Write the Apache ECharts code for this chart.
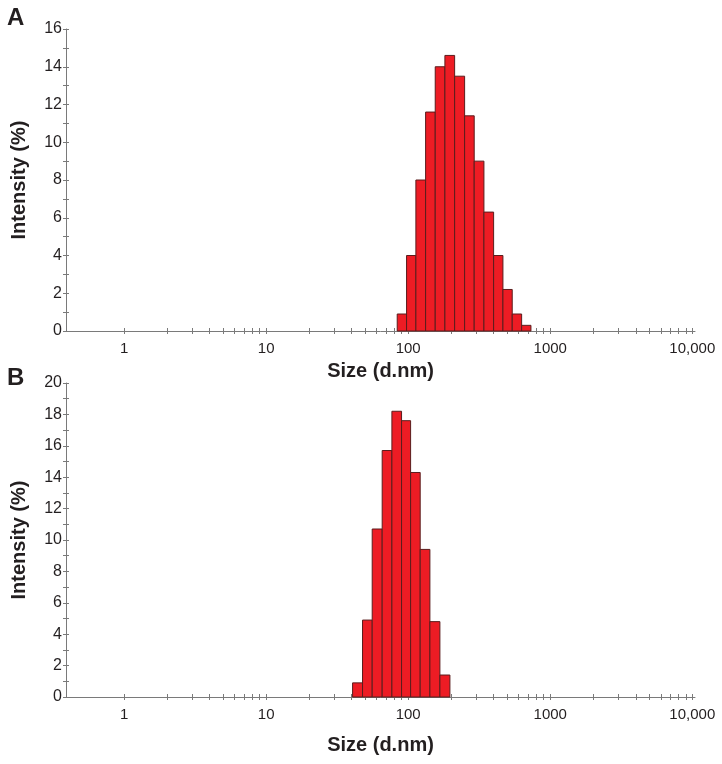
<!DOCTYPE html>
<html>
<head>
<meta charset="utf-8">
<script src="https://cdn.jsdelivr.net/npm/echarts@6/dist/echarts.min.js"></script>
<style>
html,body{margin:0;padding:0;background:#fff;}
#chart{width:722px;height:764px;}
</style>
</head>
<body>
<div id="chart"></div>
<script>
// Panel A: bin edges (nm) and intensity (%)
const sizeEdgesA = [83.7, 97.4, 113.3, 132.6, 155.0, 181.3, 212.3, 249.6, 291.6, 341.4, 399.4, 464.5, 540.1, 629.0, 731.4];
const intensityA = [0.9, 4.0, 8.0, 11.6, 14.0, 14.6, 13.5, 11.4, 9.0, 6.3, 4.0, 2.2, 0.9, 0.3];
// Panel B
const sizeEdgesB = [40.6, 47.7, 55.8, 65.6, 76.8, 89.8, 104.0, 121.5, 142.2, 167.2, 196.7];
const intensityB = [0.9, 4.9, 10.7, 15.7, 18.2, 17.6, 14.3, 9.4, 4.8, 1.4];
// Axis labels/ticks
const xLabelValues = [1, 10, 100, 1000, 10000];
const xTickValues = [1,2,3,4,5,6,7,8,9,10,20,30,40,50,60,70,80,90,100,200,300,400,500,600,700,800,900,1000,2000,3000,4000,5000,6000,7000,8000,9000,10000];
const yMaxA = 16, yMaxB = 20;
const panelLabels = ['A', 'B'];
const xTitle = 'Size (d.nm)';
const yTitle = 'Intensity (%)';

function toBins(edges, vals) {
  return vals.map((v, i) => [edges[i], edges[i + 1], v]);
}

const FONT = 'Liberation Sans, Arial, Helvetica, sans-serif';
const AXIS_COLOR = '#7a7a7a';
const TEXT_COLOR = '#231f20';

function renderBar(params, api) {
  const lo = api.value(0), hi = api.value(1), v = api.value(2);
  const p1 = api.coord([lo, v]);
  const p2 = api.coord([hi, 0]);
  return {
    type: 'rect',
    shape: { x: p1[0], y: p1[1], width: p2[0] - p1[0], height: p2[1] - p1[1] },
    style: { fill: '#ed1c24', stroke: '#5a1d1d', lineWidth: 1 }
  };
}

function xAxes(gridIndex, nameGap) {
  const common = {
    type: 'log', logBase: 10, gridIndex: gridIndex, position: 'bottom',
    min: 0.39, max: 10450, splitLine: { show: false }, minorTick: { show: false }
  };
  return [
    Object.assign({}, common, {
      name: xTitle, nameLocation: 'middle', nameGap: nameGap,
      nameTextStyle: { fontFamily: FONT, fontSize: 20, fontWeight: 'bold', color: TEXT_COLOR },
      axisLine: { show: true, lineStyle: { color: AXIS_COLOR, width: 1 } },
      axisTick: { show: true, inside: true, length: 3, customValues: xTickValues, lineStyle: { color: AXIS_COLOR } },
      axisLabel: {
        show: true, customValues: xLabelValues, margin: 10, fontFamily: FONT, fontSize: 15, color: TEXT_COLOR,
        formatter: v => (v >= 10000 ? '10,000' : String(Math.round(v)))
      }
    }),
    Object.assign({}, common, {
      axisLine: { show: false },
      axisTick: { show: true, inside: false, length: 3, customValues: xTickValues, lineStyle: { color: AXIS_COLOR } },
      axisLabel: { show: false }
    })
  ];
}

function yAxes(gridIndex, max) {
  const common = {
    type: 'value', gridIndex: gridIndex, position: 'left', min: 0, max: max, interval: 1,
    splitLine: { show: false }
  };
  return [
    Object.assign({}, common, {
      name: yTitle, nameLocation: 'middle', nameGap: 37, nameRotate: 90,
      nameTextStyle: { fontFamily: FONT, fontSize: 20, fontWeight: 'bold', color: TEXT_COLOR },
      axisLine: { show: true, lineStyle: { color: AXIS_COLOR, width: 1 } },
      axisTick: { show: true, inside: true, length: 3, lineStyle: { color: AXIS_COLOR } },
      axisLabel: {
        show: true, margin: 4, fontFamily: FONT, fontSize: 16, color: TEXT_COLOR,
        formatter: v => (v % 2 === 0 ? String(v) : '')
      }
    }),
    Object.assign({}, common, {
      axisLine: { show: false },
      axisTick: { show: true, inside: false, length: 3, lineStyle: { color: AXIS_COLOR } },
      axisLabel: { show: false }
    })
  ];
}

const chart = echarts.init(document.getElementById('chart'), null, { renderer: 'canvas' });
chart.setOption({
  animation: false,
  backgroundColor: '#ffffff',
  grid: [
    { left: 66, right: 27, top: 29, height: 302, outerBoundsMode: 'none', containLabel: false },
    { left: 66, right: 27, top: 383, height: 314, outerBoundsMode: 'none', containLabel: false }
  ],
  xAxis: [].concat(xAxes(0, 30), xAxes(1, 38)),
  yAxis: [].concat(yAxes(0, yMaxA), yAxes(1, yMaxB)),
  graphic: [
    { type: 'text', left: 7, top: 6, style: { text: panelLabels[0], font: 'bold 24px ' + FONT, fill: TEXT_COLOR } },
    { type: 'text', left: 7, top: 366, style: { text: panelLabels[1], font: 'bold 24px ' + FONT, fill: TEXT_COLOR } }
  ],
  series: [
    {
      type: 'custom', xAxisIndex: 0, yAxisIndex: 0, renderItem: renderBar,
      encode: { x: [0, 1], y: 2 }, data: toBins(sizeEdgesA, intensityA)
    },
    {
      type: 'custom', xAxisIndex: 2, yAxisIndex: 2, renderItem: renderBar,
      encode: { x: [0, 1], y: 2 }, data: toBins(sizeEdgesB, intensityB)
    }
  ]
});
</script>
</body>
</html>
